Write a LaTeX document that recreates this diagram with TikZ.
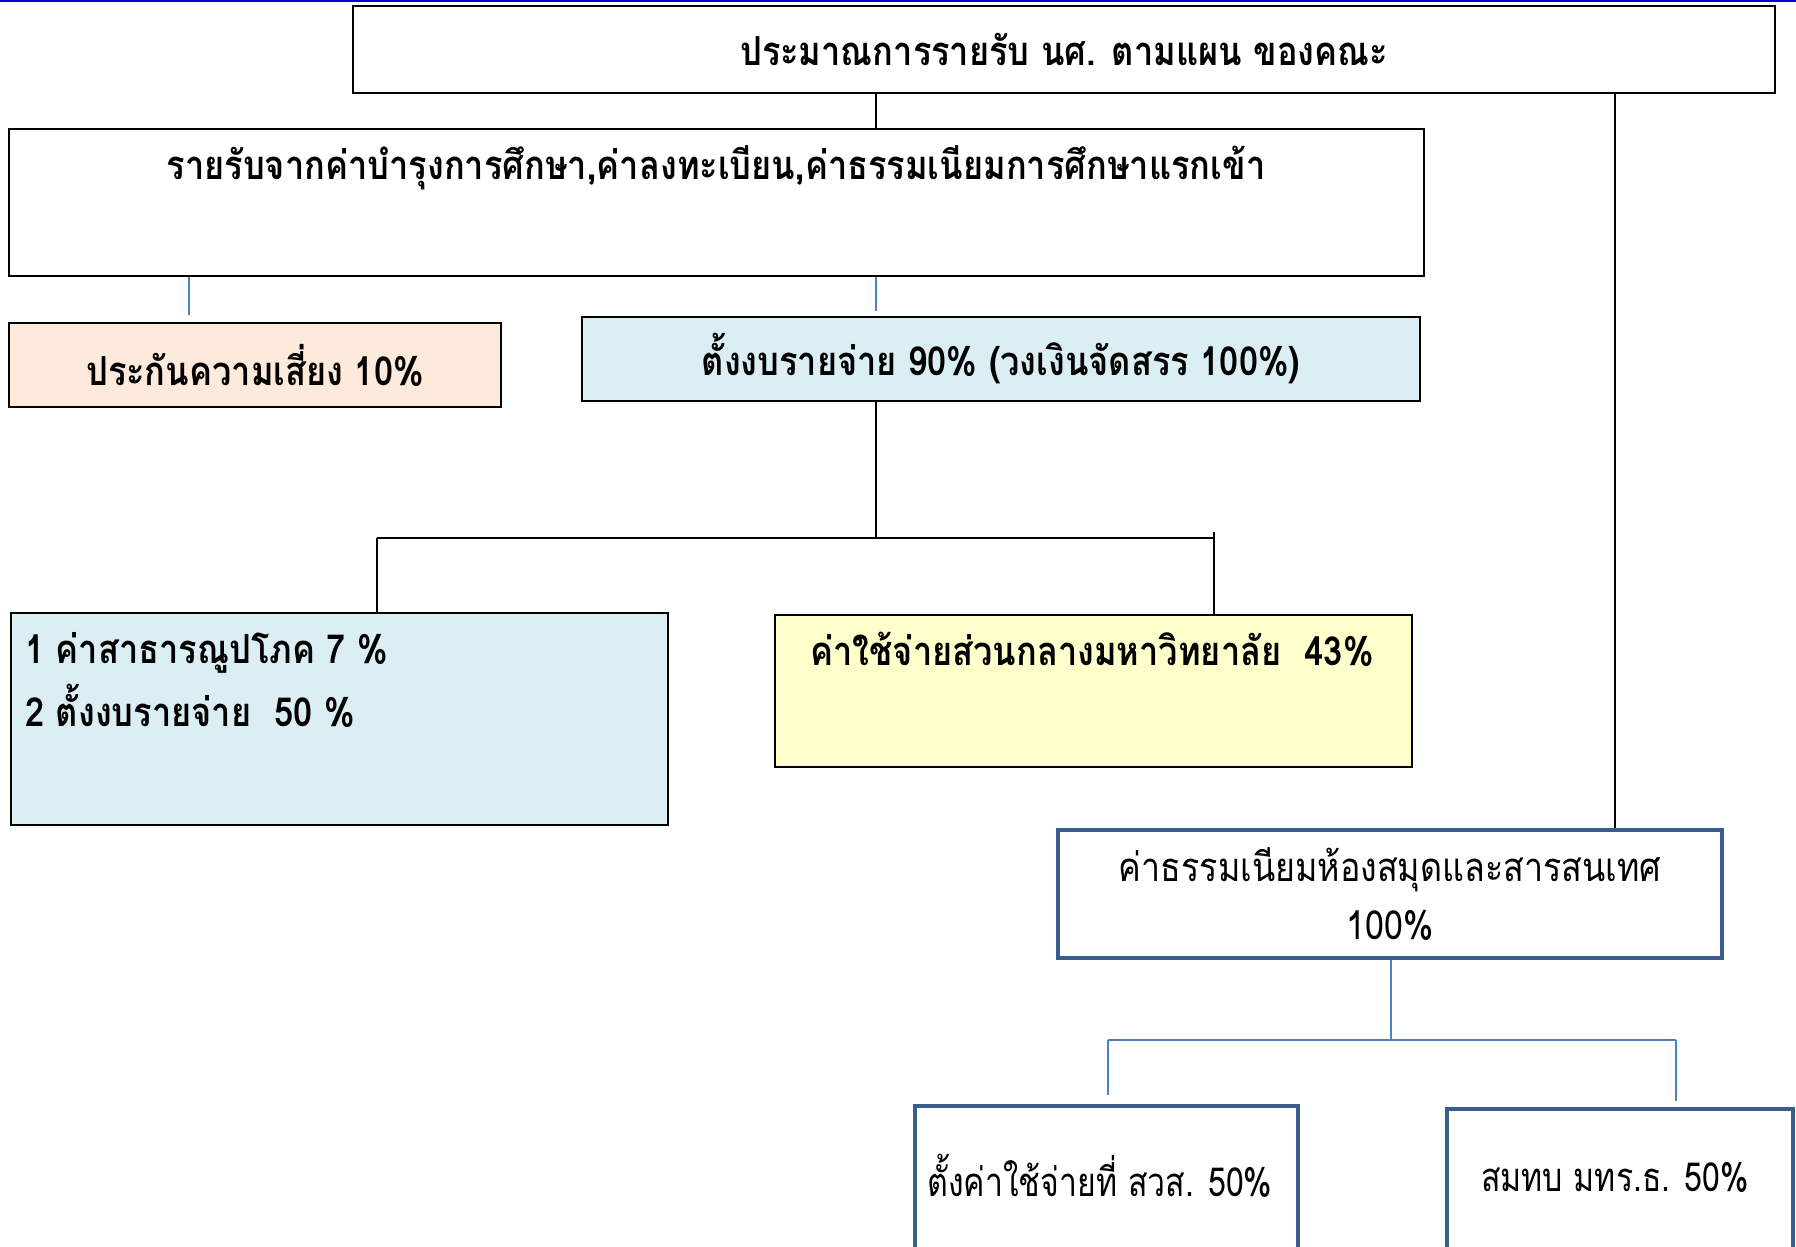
\documentclass[tikz,border=0pt]{standalone}
\usepackage{fontspec}
\newfontfamily\thai[Script=Thai, FakeStretch=0.86]{Loma}
\newfontfamily\thaimid[Script=Thai, FakeStretch=0.85]{Loma}
\newfontfamily\thainarrow[Script=Thai, FakeStretch=0.8]{Loma}
\definecolor{peach}{HTML}{FDEADA}
\definecolor{lblue}{HTML}{DAEEF3}
\definecolor{lyellow}{HTML}{FFFFCC}
\definecolor{libline}{HTML}{385D8A}
\definecolor{connblue}{HTML}{4F81BD}
\definecolor{topblue}{HTML}{0000CC}
\begin{document}
\begin{tikzpicture}[x=1pt,y=-1pt,
  every node/.style={font=\thai\bfseries\fontsize{40}{44}\selectfont, inner sep=0pt},
  regtext/.style={font=\thainarrow\fontsize{40}{44}\selectfont},
  box/.style={draw=black, line width=1.8pt},
  libbox/.style={draw=libline, line width=4pt},
  conn/.style={draw=black, line width=1.2pt},
  connthick/.style={draw=black, line width=2.4pt},
  bconn/.style={draw=connblue, line width=1.2pt},
  bconnthick/.style={draw=connblue, line width=2pt}]
\clip (0,0) rectangle (1796,1247);
\fill[white] (0,0) rectangle (1796,1247);
\draw[topblue, line width=2pt] (0,1) -- (1796,1);

% boxes
\node[box, minimum width=1422pt, minimum height=87pt] (top) at (1064,49.5) {ประมาณการรายรับ นศ. ตามแผน ของคณะ};
\node[box, minimum width=1415pt, minimum height=147pt] (inc) at (716.5,202.5) {};
\node (inct) at (716,168) {รายรับจากค่าบำรุงการศึกษา,ค่าลงทะเบียน,ค่าธรรมเนียมการศึกษาแรกเข้า};
\node[box, fill=peach, minimum width=492pt, minimum height=84pt] (risk) at (255,365) {ประกันความเสี่ยง 10\%};
\node[box, fill=lblue, minimum width=838pt, minimum height=84pt] (exp) at (1001,359) {ตั้งงบรายจ่าย 90\% (วงเงินจัดสรร 100\%)};
\node[box, fill=lblue, minimum width=657pt, minimum height=212pt] (util) at (339.5,719) {};
\node[anchor=west, align=left, font=\thai\bfseries\fontsize{40}{63}\selectfont] (utilt) at (25,680.5) {1 ค่าสาธารณูปโภค 7 \%\\2 ตั้งงบรายจ่าย~~50 \%};
\node[box, fill=lyellow, minimum width=637pt, minimum height=152pt] (cent) at (1093.5,691) {};
\node (centt) at (1092,649) {ค่าใช้จ่ายส่วนกลางมหาวิทยาลัย~~43\%};
\node[libbox, minimum width=664pt, minimum height=128pt, align=center, font=\thaimid\fontsize{40}{58}\selectfont] (lib) at (1390,894) {ค่าธรรมเนียมห้องสมุดและสารสนเทศ\\100\%};
\node[libbox, minimum width=383pt, minimum height=184pt] (arc) at (1106.5,1198) {};
\node[regtext] (arct) at (1100,1176) {ตั้งค่าใช้จ่ายที่ สวส. 50\%};
\node[libbox, minimum width=346pt, minimum height=181pt] (uni) at (1620,1199.5) {};
\node[regtext] (unit) at (1615,1177) {สมทบ มทร.ธ. 50\%};

% junction coordinates
\coordinate (j1) at (876,538);
\coordinate (j1l) at (377,538);
\coordinate (j1r) at (1214,538);
\coordinate (j2) at (1391,1040);
\coordinate (j2l) at (1108,1040);
\coordinate (j2r) at (1676,1040);

% connectors
\draw[conn] (top.south -| j1) -- (inc.north -| j1);
\draw[conn] (top.south -| 1615,0) -- (lib.north -| 1615,0);
\draw[bconn, shorten >=7pt] (inc.south -| 189,0) -- (risk.north -| 189,0);
\draw[bconn, shorten >=5pt] (inc.south -| j1) -- (exp.north -| j1);
\draw[conn] (exp.south -| j1) -- (j1);
\draw[connthick] (j1l) -- (j1r);
\draw[conn] (j1l) -- (util.north -| j1l);
\draw[conn] ([yshift=6pt]j1r) -- (cent.north -| j1r);
\draw[bconn] (lib.south -| j2) -- (j2);
\draw[bconnthick] (j2l) -- (j2r);
\draw[bconn, shorten >=9pt] (j2l) -- (arc.north -| j2l);
\draw[bconn, shorten >=6pt] (j2r) -- (uni.north -| j2r);
\end{tikzpicture}
\end{document}
